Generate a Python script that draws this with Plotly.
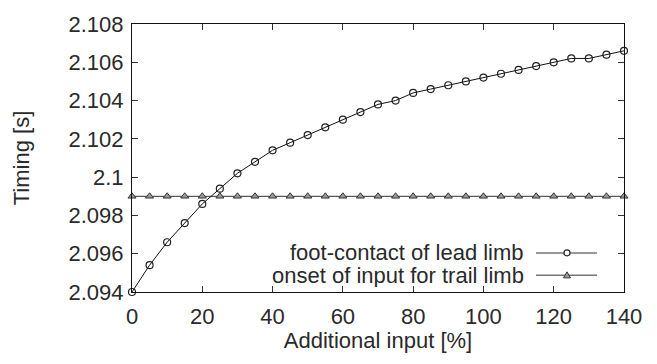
import plotly.graph_objects as go

additional_input = [0, 5, 10, 15, 20, 25, 30, 35, 40, 45, 50, 55, 60, 65, 70,
                    75, 80, 85, 90, 95, 100, 105, 110, 115, 120, 125, 130, 135, 140]
lead_contact = [2.0940, 2.0954, 2.0966, 2.0976, 2.0986, 2.0994, 2.1002, 2.1008,
                2.1014, 2.1018, 2.1022, 2.1026, 2.1030, 2.1034, 2.1038, 2.1040,
                2.1044, 2.1046, 2.1048, 2.1050, 2.1052, 2.1054, 2.1056, 2.1058,
                2.1060, 2.1062, 2.1062, 2.1064, 2.1066]
trail_onset = [2.099] * len(additional_input)

y_tickvals = [2.094, 2.096, 2.098, 2.100, 2.102, 2.104, 2.106, 2.108]
y_ticktext = ["2.094", "2.096", "2.098", "2.1", "2.102", "2.104", "2.106", "2.108"]
x_tickvals = [0, 20, 40, 60, 80, 100, 120, 140]
legend_names = ["foot-contact of lead limb", "onset of input for trail limb"]

FONT = "Liberation Sans, Arial, sans-serif"
TXT = "#2a2a2a"
FS = 22
W, H = 657, 364
ML, MR, MT, MB = 132, 33, 18, 72
PW, PH = W - ML - MR, H - MT - MB

fig = go.Figure()
fig.add_trace(go.Scatter(
    x=additional_input, y=trail_onset, mode="lines+markers", name=legend_names[1],
    line=dict(color="#5a5a5a", width=1.3),
    marker=dict(symbol="triangle-up", size=7, color="#9a9a9a",
                line=dict(color="#333333", width=1)),
    cliponaxis=False, showlegend=False))
fig.add_trace(go.Scatter(
    x=additional_input, y=lead_contact, mode="lines+markers", name=legend_names[0],
    line=dict(color="#111111", width=1),
    marker=dict(symbol="circle-open", size=7, color="#222222",
                line=dict(width=1.2)),
    cliponaxis=False, showlegend=False))

def px_x(p):
    return (p - ML) / PW

def px_y(p):
    return (H - MB - p) / PH

shapes = []
annotations = []
rows = [252, 275]
for i, (name, ry) in enumerate(zip(legend_names, rows)):
    annotations.append(dict(
        x=px_x(525), y=px_y(ry), xref="paper", yref="paper",
        text=name, showarrow=False, xanchor="right", yanchor="middle",
        height=23, valign="middle", borderpad=0,
        font=dict(family=FONT, size=FS, color=TXT)))
    shapes.append(dict(type="line", xref="paper", yref="paper",
                       x0=px_x(536), x1=px_x(597), y0=px_y(ry), y1=px_y(ry),
                       line=dict(color="#777777", width=1.5)))
# legend key markers
shapes.append(dict(type="circle", xref="paper", yref="paper",
                   xsizemode="pixel", ysizemode="pixel",
                   xanchor=px_x(567), yanchor=px_y(rows[0]),
                   x0=-3, x1=3, y0=-3, y1=3,
                   line=dict(color="#222222", width=1.2), fillcolor="white"))
shapes.append(dict(type="path", xref="paper", yref="paper",
                   xsizemode="pixel", ysizemode="pixel",
                   xanchor=px_x(567), yanchor=px_y(rows[1]),
                   path="M -3.5,-2.5 L 3.5,-2.5 L 0,3.5 Z",
                   line=dict(color="#333333", width=1), fillcolor="#9a9a9a"))

axis_common = dict(
    showline=True, linecolor="#111111", linewidth=1.2, mirror="allticks",
    ticks="inside", ticklen=6, tickwidth=1, tickcolor="#333333",
    showgrid=False, zeroline=False,
    tickfont=dict(family=FONT, size=FS, color=TXT),
)

fig.update_layout(
    width=W, height=H,
    margin=dict(l=ML, r=MR, t=MT, b=MB, pad=0),
    paper_bgcolor="white", plot_bgcolor="white",
    xaxis=dict(range=[0, 140], tickvals=x_tickvals, ticklabelstandoff=4,
               title=dict(text="Additional input [%]", standoff=4,
                          font=dict(family=FONT, size=FS, color=TXT)),
               **axis_common),
    yaxis=dict(range=[2.094, 2.108], tickvals=y_tickvals, ticktext=y_ticktext,
               ticklabelstandoff=3,
               title=dict(text="Timing [s]", standoff=32,
                          font=dict(family=FONT, size=FS, color=TXT)),
               **axis_common),
    shapes=shapes, annotations=annotations,
    showlegend=False,
)

fig.write_html("out.html")
